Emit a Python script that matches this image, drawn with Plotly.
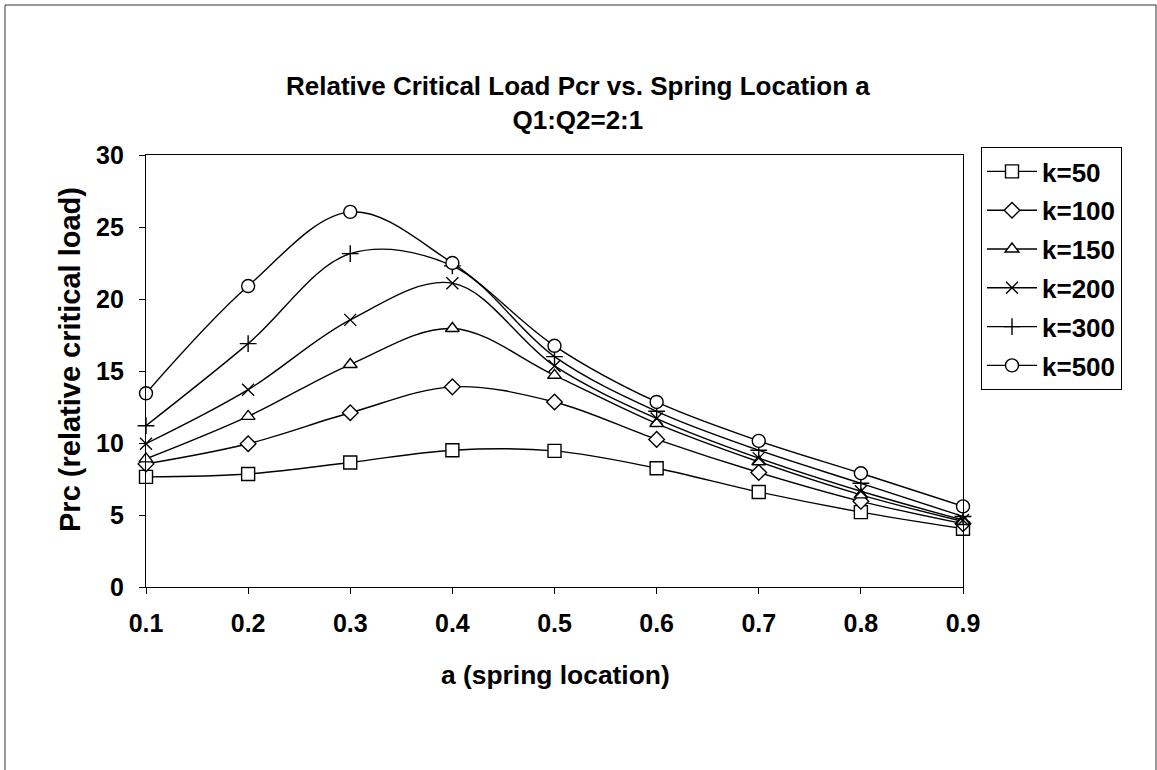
import plotly.graph_objects as go

# Spring location a and relative critical load for each spring stiffness k
a_vals = [0.1, 0.2, 0.3, 0.4, 0.5, 0.6, 0.7, 0.8, 0.9]
k50 = [7.65, 7.85, 8.65, 9.5, 9.45, 8.25, 6.6, 5.2, 4.05]
k100 = [8.55, 9.95, 12.1, 13.9, 12.85, 10.25, 7.95, 5.95, 4.4]
k150 = [8.9, 11.85, 15.45, 17.95, 14.7, 11.35, 8.7, 6.4, 4.55]
k200 = [9.95, 13.7, 18.55, 21.1, 15.35, 11.7, 8.95, 6.65, 4.65]
k300 = [11.2, 16.9, 23.15, 22.3, 16.0, 12.2, 9.5, 7.2, 4.9]
k500 = [13.45, 20.9, 26.05, 22.5, 16.75, 12.85, 10.15, 7.9, 5.6]

series_names = ["k=50", "k=100", "k=150", "k=200", "k=300", "k=500"]
series_vals = [k50, k100, k150, k200, k300, k500]
symbols = ["square", "diamond", "triangle-up", "x-thin", "cross-thin", "circle"]
sizes = [13, 12, 12, 12, 12, 13]

x_ticks = [0.1, 0.2, 0.3, 0.4, 0.5, 0.6, 0.7, 0.8, 0.9]
x_tick_text = ["0.1", "0.2", "0.3", "0.4", "0.5", "0.6", "0.7", "0.8", "0.9"]
y_ticks = [0, 5, 10, 15, 20, 25, 30]

FONT = "Liberation Sans, Arial, sans-serif"

# plot area in pixels
W, H = 1157, 770
L, R, T, B = 146, 963, 155, 587


def px(xp):
    return (xp - L) / (R - L)


def py(yp):
    return (B - yp) / (B - T)


fig = go.Figure()
for i, (name, vals, sym, sz) in enumerate(zip(series_names, series_vals, symbols, sizes)):
    fig.add_trace(go.Scatter(
        x=a_vals, y=vals, name=name, mode="lines+markers",
        line=dict(color="black", width=1.4, shape="spline", smoothing=1.0),
        marker=dict(symbol=sym, size=sz, color="white",
                    line=dict(color="black", width=1.4)),
        legendgroup=name, cliponaxis=False,
    ))

fig.update_layout(
    width=W, height=H,
    margin=dict(l=L, r=W - R, t=T, b=H - B),
    paper_bgcolor="white", plot_bgcolor="white",
    font=dict(family=FONT, color="black", size=25, weight="bold"),
    showlegend=True,
    legend=dict(
        x=px(981), y=py(147), xanchor="left", yanchor="top",
        bordercolor="black", borderwidth=1, bgcolor="white",
        font=dict(family=FONT, size=26, color="black", weight="bold"),
        tracegroupgap=2, itemwidth=50,
    ),
    xaxis=dict(
        range=[0.1, 0.9], tickvals=x_ticks, ticktext=x_tick_text,
        showline=True, linecolor="black", linewidth=1.3, mirror=True,
        ticks="outside", ticklen=6, tickcolor="black", tickwidth=1,
        showgrid=False, zeroline=False, ticklabelstandoff=8,
        tickfont=dict(family=FONT, size=25, color="black", weight="bold"),
    ),
    xaxis2=dict(
        range=[0.1, 0.9], tickvals=x_ticks, overlaying="x",
        ticks="inside", ticklen=6, tickcolor="black", tickwidth=1,
        showticklabels=False, showgrid=False, zeroline=False, showline=False,
    ),
    yaxis=dict(
        range=[0, 30], tickvals=y_ticks,
        showline=True, linecolor="black", linewidth=1.3, mirror=True,
        ticks="outside", ticklen=6, tickcolor="black", tickwidth=1,
        showgrid=False, zeroline=False, ticklabelstandoff=10,
        tickfont=dict(family=FONT, size=25, color="black", weight="bold"),
    ),
    yaxis2=dict(
        range=[0, 30], tickvals=y_ticks, overlaying="y",
        ticks="inside", ticklen=6, tickcolor="black", tickwidth=1,
        showticklabels=False, showgrid=False, zeroline=False, showline=False,
    ),
)

# chart title, two lines
fig.add_annotation(
    x=px(578), y=py(103), xref="paper", yref="paper",
    text="Relative Critical Load Pcr vs. Spring Location a<br>Q1:Q2=2:1",
    showarrow=False, xanchor="center", yanchor="middle",
    font=dict(family=FONT, size=26, color="black", weight="bold"),
)
# axis titles
fig.add_annotation(
    x=px(555), y=py(675), xref="paper", yref="paper",
    text="a (spring location)", showarrow=False,
    xanchor="center", yanchor="middle",
    font=dict(family=FONT, size=26.4, color="black", weight="bold"),
)
fig.add_annotation(
    x=px(70), y=py(360), xref="paper", yref="paper",
    text="Prc (relative critical load)", showarrow=False, textangle=-90,
    xanchor="center", yanchor="middle",
    font=dict(family=FONT, size=29, color="black", weight="bold"),
)

# thin outer frame around the whole chart
fig.add_shape(
    type="rect", xref="paper", yref="paper",
    x0=px(5), x1=px(1156), y0=py(780), y1=py(5),
    line=dict(color="#333333", width=1), fillcolor="rgba(0,0,0,0)",
    layer="below",
)

fig.write_html("out.html")
